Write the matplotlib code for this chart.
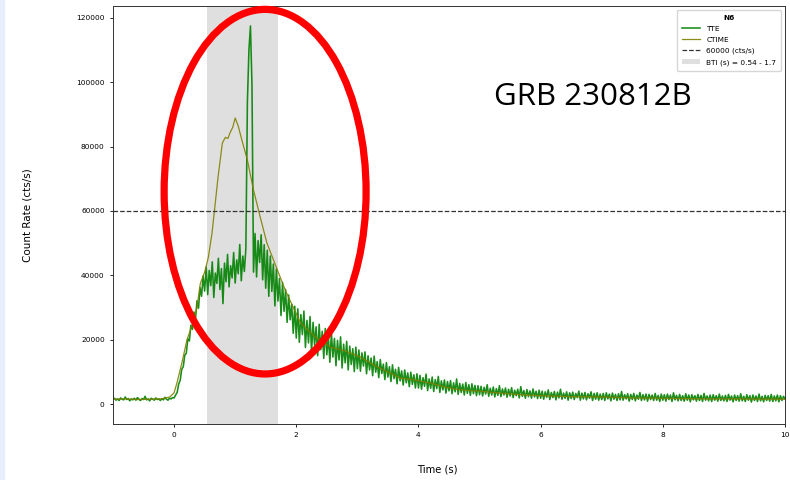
import numpy as np
import matplotlib
matplotlib.use("Agg")
import matplotlib.pyplot as plt
from matplotlib.patches import Ellipse, Rectangle

# N6 detector light curve, rates in kcts/s
# TTE binned on a 25 ms grid from -1 s to 10 s
tte_start, tte_step = -1.0, 0.025
tte_kcts = [
    # -1 .. 0 s
    1.4, 1.8, 1.2, 1.6, 1.1, 1.9, 1.5, 1.3, 2.2, 1.4, 1.7, 1.0, 1.6, 1.3, 1.8, 1.2, 2.0, 1.5, 1.1, 1.7,
    1.4, 2.4, 1.3, 1.6, 1.0, 1.8, 1.5, 1.2, 1.9, 1.4, 1.6, 1.1, 1.7, 1.3, 2.1, 1.5, 1.2, 1.8, 1.6, 2.0,
    # 0 .. 1 s
    1.9, 2.8, 3.6, 6.2, 7.4, 10.8, 11.6, 15.2, 15.8, 20.3, 19.6, 24.5, 23.2, 28.6, 26.4, 32.1, 29.8, 36.2, 33.5, 39.8,
    35.1, 42.6, 34.0, 41.5, 36.8, 44.2, 33.1, 40.7, 37.5, 45.3, 35.6, 42.1, 31.2, 43.8, 38.0, 46.5, 36.4, 43.0, 39.2, 47.1,
    # 1 .. 2 s
    37.6, 44.8, 40.5, 49.6, 38.3, 46.0, 41.2, 48.4, 94.0, 110.0, 117.5, 99.0, 41.0, 53.0, 39.5, 50.8, 44.0, 52.6, 38.6, 49.5,
    36.0, 47.8, 33.5, 46.0, 35.0, 43.5, 30.5, 42.0, 32.0, 39.0, 27.5, 37.8, 28.8, 35.6, 25.4, 33.9, 26.2, 31.0, 22.0, 30.4,
    # 2 .. 3 s
    20.5, 29.6, 19.2, 27.8, 21.6, 28.9, 17.6, 26.0, 19.0, 27.2, 16.2, 25.4, 18.3, 24.0, 15.0, 24.8, 16.9, 22.6, 14.2, 23.5,
    15.3, 21.0, 13.0, 22.2, 14.6, 20.4, 11.9, 19.8, 13.7, 20.9, 11.2, 18.6, 12.8, 19.5, 10.6, 18.0, 12.3, 17.2, 10.1, 17.7,
    # 3 .. 4 s
    11.0, 16.8, 10.2, 15.9, 11.8, 16.2, 9.4, 15.0, 10.6, 14.3, 8.8, 14.9, 9.9, 13.2, 8.2, 13.8, 9.5, 12.4, 7.6, 12.9,
    8.4, 11.6, 7.0, 12.2, 7.9, 10.8, 6.3, 11.4, 7.2, 10.3, 5.9, 10.6, 6.6, 9.7, 5.4, 9.9, 6.1, 9.1, 5.0, 9.4,
    # 4 .. 5 s
    5.0, 8.9, 4.6, 8.2, 5.5, 9.3, 4.2, 7.8, 4.9, 8.4, 3.9, 7.6, 4.8, 8.6, 3.6, 7.2, 4.4, 7.5, 3.4, 7.0,
    4.1, 7.3, 3.2, 6.6, 3.8, 7.8, 3.0, 6.4, 3.6, 6.2, 2.8, 6.7, 3.3, 6.0, 2.7, 6.3, 3.2, 5.8, 2.6, 5.7,
    # 5 .. 6 s
    2.9, 5.5, 2.5, 5.2, 3.1, 6.0, 2.4, 4.9, 2.8, 5.3, 2.2, 4.8, 2.7, 5.7, 2.3, 4.7, 2.8, 5.0, 2.1, 4.6,
    2.5, 5.1, 2.0, 4.3, 2.6, 4.6, 1.9, 5.4, 2.4, 4.2, 1.8, 4.5, 2.3, 4.1, 1.8, 4.7, 2.2, 4.0, 1.7, 4.3,
    # 6 .. 7 s
    1.8, 4.0, 1.5, 3.8, 2.1, 4.4, 1.4, 3.6, 2.0, 3.9, 1.3, 3.7, 1.9, 4.6, 1.5, 3.4, 1.8, 3.8, 1.2, 3.5,
    1.7, 3.7, 1.4, 3.3, 2.0, 4.0, 1.2, 3.4, 1.6, 3.6, 1.3, 3.2, 1.8, 3.8, 1.1, 3.3, 1.5, 3.5, 1.2, 3.1,
    # 7 .. 8 s
    1.4, 3.3, 1.1, 3.5, 1.6, 3.1, 1.0, 3.4, 1.5, 3.0, 1.1, 3.2, 1.3, 3.9, 1.2, 2.9, 1.6, 3.2, 0.9, 3.0,
    1.4, 3.3, 1.0, 2.8, 1.5, 3.6, 1.1, 2.9, 1.3, 3.1, 0.9, 3.0, 1.4, 2.8, 1.1, 3.3, 1.2, 2.7, 0.8, 3.1,
    # 8 .. 9 s
    1.2, 2.9, 0.9, 3.1, 1.4, 2.8, 0.8, 3.5, 1.3, 2.7, 1.0, 3.0, 1.1, 2.6, 0.9, 3.2, 1.2, 2.8, 0.7, 2.9,
    1.3, 2.6, 0.9, 3.0, 1.1, 2.7, 0.8, 3.3, 1.2, 2.5, 1.0, 2.8, 0.8, 2.9, 1.2, 2.6, 0.9, 3.1, 1.1, 2.5,
    # 9 .. 10 s
    1.0, 2.7, 0.8, 3.0, 1.2, 2.5, 0.7, 2.8, 1.1, 2.6, 0.9, 3.2, 1.0, 2.4, 0.8, 2.9, 1.2, 2.6, 0.6, 2.8,
    1.1, 2.5, 0.8, 3.1, 1.0, 2.4, 0.7, 2.7, 1.1, 2.6, 0.9, 3.0, 0.8, 2.5, 1.0, 2.8, 0.7, 2.6, 1.1, 2.4,
    1.6,
]

# CTIME light curve
ctime_t = [-1.0, -0.8, -0.6, -0.4, -0.2, -0.07, 0.0, 0.05, 0.13, 0.21, 0.3, 0.37, 0.43, 0.5,
           0.56, 0.62, 0.66, 0.72, 0.79, 0.84, 0.88, 0.92, 0.96, 1.0, 1.05, 1.11, 1.2, 1.3,
           1.41, 1.52, 1.69, 1.82, 2.07, 2.3, 2.56, 2.8, 3.05, 3.3, 3.54, 3.7, 3.9, 4.2,
           4.45, 4.69, 5.0, 5.34, 5.7, 6.0, 6.5, 6.98, 7.5, 8.0, 8.62, 9.2, 10.0]
ctime_kcts = [1.5, 1.6, 1.4, 1.5, 1.6, 2.2, 3.5, 6.8, 13.0, 19.9, 24.8, 29.5, 37.5, 41.0,
              45.5, 53.0, 60.0, 70.6, 81.1, 82.9, 82.5, 84.5, 86.0, 88.9, 86.4, 82.0, 75.8, 66.5,
              58.1, 50.0, 41.7, 35.4, 25.2, 21.0, 17.7, 16.5, 14.6, 11.8, 9.6, 8.1, 7.6, 6.5,
              5.2, 4.4, 4.0, 3.4, 2.9, 2.6, 2.3, 2.2, 1.9, 1.8, 1.6, 1.6, 1.5]

detector = "N6"
grb_name = "GRB 230812B"
rate_limit = 60000
bti = (0.54, 1.7)

tte_rate = np.array(tte_kcts) * 1000
tte_t = tte_start + tte_step * np.arange(len(tte_rate))
ctime_rate = np.array(ctime_kcts) * 1000

fig = plt.figure(figsize=(7.9, 4.8), dpi=100)
fig.patches.append(Rectangle((0, 0), 5 / 790, 1, transform=fig.transFigure,
                             facecolor="#e8eefc", edgecolor="none"))
ax = fig.add_axes([113 / 790, 56 / 480, 672 / 790, 418 / 480])

ax.plot(tte_t, tte_rate, color="green", linewidth=1.15, alpha=0.9, label="TTE")
ax.plot(ctime_t, ctime_rate, color="olive", linewidth=0.9, alpha=0.9, label="CTIME")
ax.axhline(rate_limit, color="#333333", linestyle="--", linewidth=0.9,
           label=f"{rate_limit} (cts/s)")
ax.axvspan(bti[0], bti[1], color="gray", alpha=0.25, linewidth=0,
           label=f"BTI (s) = {bti[0]} - {bti[1]}")

ax.set_xlim(-1, 10)
ax.set_ylim(-6200, 123700)
ax.set_xticks([0, 2, 4, 6, 8, 10])
ax.tick_params(labelsize=5.3, length=2.5, width=0.6)
for sp in ax.spines.values():
    sp.set_linewidth(0.7)
    sp.set_color("#333333")

ax.set_xlabel("Time (s)", fontsize=7.2)
ax.set_ylabel("Count Rate (cts/s)", fontsize=7.5)
ax.xaxis.set_label_coords(0.482, -0.098)
ax.yaxis.set_label_coords(-0.12, 0.5)

leg = ax.legend(loc="upper right", title=detector, fontsize=5.3, title_fontsize=5.3,
                handlelength=2.5, borderpad=0.7, labelspacing=0.65)
leg.get_title().set_fontweight("bold")

# highlight the saturated part of the burst
ax.add_patch(Ellipse((1.49, 66000), 3.306, 113300, fill=False, edgecolor="red",
                     linewidth=5.2, clip_on=False, zorder=5))

fig.text(494 / 790, (480 - 105) / 480, grb_name, fontsize=22.5, family="Open Sans",
         ha="left", va="baseline")

fig.savefig("out.png", dpi=100)
